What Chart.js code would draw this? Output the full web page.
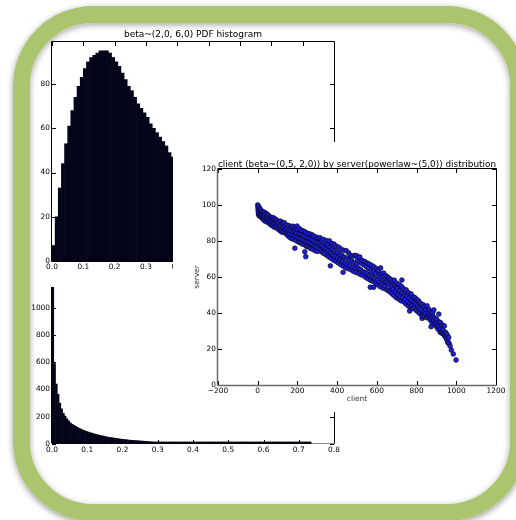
<!DOCTYPE html>
<html>
<head>
<meta charset="utf-8">
<script src="https://cdn.jsdelivr.net/npm/chart.js@4.4.1/dist/chart.umd.min.js"></script>
<style>
  html, body { margin: 0; padding: 0; background: #fff; }
  body { width: 516px; height: 520px; position: relative; overflow: hidden; }
  canvas { position: absolute; background: #fff; }
  #powerlaw { left: 0; top: 200px; z-index: 1; }
  #beta { left: 28px; top: 30px; z-index: 2; }
  #scatter { left: 173px; top: 142px; z-index: 3; }
  #frame {
    position: absolute; left: 13px; top: 6px; width: 514px; height: 515px;
    box-sizing: border-box; border: 17px solid #abc56e; border-radius: 80px;
    z-index: 10; pointer-events: none;
    box-shadow: 0 2px 6px rgba(0,0,0,.4), inset 0 2px 6px rgba(0,0,0,.35);
  }
</style>
</head>
<body>
<canvas id="powerlaw" width="350" height="270"></canvas>
<canvas id="beta" width="318" height="257"></canvas>
<canvas id="scatter" width="339" height="270"></canvas>
<div id="frame"></div>
<script>
// beta~(2,0, 6,0) histogram, bins of 0.01 starting at 0
const betaTitle = "beta~(2,0, 6,0) PDF histogram";
const betaBinWidth = 0.01;
const betaCounts = [
  7, 20, 33, 44, 53, 61, 68, 74, 79, 83,
  87, 90, 92, 93, 94, 95, 95, 95, 94, 92,
  90, 88, 85, 82, 79, 77, 74, 71, 69, 67,
  65, 62, 60, 58, 56, 54, 52, 49, 47, 44,
  42, 40, 37, 35, 33, 31, 29, 27, 25, 23,
  21, 19, 18, 16, 15, 13, 12, 11, 10, 9,
  8, 7, 6, 6, 5, 4, 4, 3, 3, 2,
  2, 2, 1, 1, 1, 1, 1, 0, 0, 0,
  0, 0, 0, 0, 0, 0, 0, 0, 0, 0
];

// powerlaw histogram, bins of 0.005 starting at 0
const powerBinWidth = 0.005;
const powerCounts = [
  1450, 590, 440, 365, 300, 258, 225, 205, 185, 170,
  155, 145, 137, 129, 122, 115, 109, 103, 98, 93,
  88, 84, 80, 76, 72, 69, 66, 63, 60, 57,
  54, 51, 49, 47, 45, 43, 41, 39, 37, 35,
  34, 32, 31, 29, 28, 27, 26, 25, 24, 23,
  22, 21, 20, 19, 18, 17, 16, 15, 15, 14,
  13, 13, 12, 12, 11, 11, 10, 10, 9, 9,
  9, 8, 8, 8, 7, 7, 7, 6, 6, 6,
  6, 5, 5, 5, 5, 5, 4, 4, 4, 4,
  4, 4, 3, 3, 3, 3, 3, 3, 3, 3,
  3, 3, 3, 2, 2, 2, 2, 2, 2, 2,
  2, 2, 2, 2, 2, 2, 2, 2, 1, 2,
  1, 2, 1, 1, 2, 1, 1, 1, 1, 1,
  1, 1, 1, 1, 1, 1, 1, 1, 1, 1,
  1, 1, 1, 1, 1, 1, 1
];

// client / server scatter
const scatterTitle = "client (beta~(0,5, 2,0)) by server(powerlaw~(5,0)) distribution";
const clientServer = [
  [0,100],[1,98.5],[2,97],[3,95.5],[5,94.5],[6,99],[8,96.5],[9,94],[11,97.8],[12,95.3],[14,93.6],
  [16,97.2],[18,95],[20,93],[22,96.4],[24,94.2],[26,92.3],[28,95.8],[30,93.5],[31,91.6],
  [34,96],[36,94.4],[38,92.2],[40,90.8],[43,95.2],[45,93.1],[47,91.4],[50,94.6],[52,92.6],[53,90.3],
  [57,94],[58,91.8],[60,89.6],[63,93.2],[65,90.9],[67,89],[70,92.8],[72,90.6],[73,88.6],
  [77,93],[79,91.5],[80,89.4],[82,87.8],[85,92.4],[87,90.2],[89,88],[92,91.8],[94,89.5],[95,87.2],
  [100,91.2],[102,88.8],[104,86.5],[107,90.3],[110,87.9],[112,85.7],[115,91],[117,88.6],[120,86.2],[122,84.9],
  [125,89.9],[127,87.5],[130,85.3],[133,90.2],[135,88],[137,84.6],[140,86.5],[143,89],[145,83.8],
  [148,87.2],[150,85],[153,82.8],[156,88.6],[158,86.2],[160,84],[163,81.9],[166,87.8],[168,85.4],[170,83.1],
  [173,81.2],[176,88.2],[178,86],[180,83.7],[183,81],[186,85.2],[188,87.6],[190,82.4],[193,80.2],[195,84.5],[187,76],
  [198,88.3],[200,86.4],[203,82],[205,79.5],[208,84],[210,86.8],[213,81.3],[215,79],[218,83.6],
  [221,85.9],[223,81],[225,78.3],[228,83.2],[231,85.5],[233,80.1],[236,77.9],[238,82.6],[240,84.9],[242,71.3],[237,74],
  [244,79.6],[246,77],[249,82],[252,84.2],[254,79.2],[257,76.6],[260,81.5],[262,83.9],[265,78.6],
  [267,75.8],[270,80.8],[272,83.5],[275,78],[278,75.4],[280,82.8],[283,80],[286,77.2],[289,74.6],
  [292,82.3],[295,79.4],[298,76.6],[301,74.2],[304,81.5],[307,78.7],[310,75.8],[313,81.8],[316,77.8],[319,74.3],
  [322,80.5],[325,77.3],[328,73.5],[331,80.9],[334,76.4],[337,72.8],[340,79],[343,75.4],[346,80.2],[349,72],
  [352,77.8],[355,74.5],[358,71.2],[361,80],[364,76.7],[366,66.2],[367,73.3],[370,70.4],[373,78.6],[376,75.6],[379,72.3],
  [382,69.4],[385,78.2],[388,74.6],[391,71.4],[394,68.7],[397,77],[400,73.6],[403,70.5],[406,67.8],[409,76.5],
  [412,72.8],[415,69.6],[418,66.9],[421,75.4],[424,72],[427,68.6],[430,62.6],[431,66],[434,74.8],[437,71],[440,67.6],
  [443,65.2],[446,74.6],[449,70.4],[452,67],[455,64.6],[458,73.4],[461,69.6],[464,66.2],[467,72],[470,64],
  [473,68.8],[476,71.5],[479,65.4],[482,63.2],[485,68],[488,72],[491,64.8],[494,62.6],[497,71.9],[499,67.4],
  [502,70.4],[505,65],[508,62],[511,68.8],[514,71.1],[517,64.2],[520,61.3],[523,67.6],[526,69.2],[529,63],
  [532,60.8],[535,66.8],[538,68.6],[541,62.6],[544,59.8],[547,65.8],[550,67.8],[553,61.6],[556,59],[559,64.6],
  [562,67.2],[565,60.8],[567,54.3],[568,58.2],[571,63.6],[574,66.4],[577,59.9],[580,57.6],[584,54.3],[583,62.6],[586,65.6],[589,59],
  [592,57],[595,61.8],[598,64.6],[601,58.2],[604,55.8],[607,63.5],[610,60.7],[613,57],[616,54.7],[619,65],[622,61.7],
  [625,59],[628,56],[631,53.8],[634,62.2],[637,58.4],[640,55],[643,60.8],[646,57.2],[649,53],
  [652,60.2],[655,56.6],[658,52.4],[661,59.4],[664,55.6],[667,51.6],[670,58.6],[673,54.4],[676,50.8],[679,57.2],
  [682,53.2],[685,49.8],[688,58.2],[691,55.6],[694,52],[697,48.6],[700,56.6],[703,53.6],[706,50.4],[709,47.8],
  [712,55.8],[715,52.4],[718,49.2],[721,46.8],[724,54.8],[726,58.3],[727,51.2],[730,48.4],[733,53.6],[736,46.2],[739,50.6],
  [742,47.6],[745,45.2],[748,52.8],[751,49.8],[754,46.4],[757,44],[760,51.2],[763,48.2],[765,41.1],[766,45.2],[769,43.4],
  [772,50.6],[775,47],[778,44],[781,42.4],[784,49],[787,46],[790,43],[793,48.4],[796,44.8],[799,41.4],
  [802,47.4],[805,43.8],[808,40.6],[811,46.6],[814,42.8],[817,39.6],[820,45.4],[823,41.8],[826,39],[828,37],[829,38.3],
  [832,44.6],[835,40.8],[838,38.2],[841,43.6],[844,39.6],[847,41.8],[850,37.4],[853,44],[856,40.4],[859,37.8],
  [862,42],[865,39],[868,36.2],[871,40.6],[873,32.4],[874,37.6],[877,35],[880,38.8],[881,40.2],[884,36],[887,41.7],[889,33.8],
  [893,37.2],[896,34.6],[899,32.6],[902,36.4],[905,33.4],[908,31],[912,39.4],[912,35],[915,32.2],[918,29.4],[921,34.6],[924,31.2],[927,28.8],[929,29.6],[930,33.2],
  [933,30.6],[936,28.2],[940,32.8],[943,27],[946,29.2],[948,26.9],[951,25.4],[954,28],[957,23.6],[959,24],[962,26.4],[965,22.8],[969,21.6],[975,19.4],[985,17.2],[999,13.9]
];

const FONT = "DejaVu Sans";
const tickFont = { family: FONT, size: 7.4 };
const histColor = "#05051a";
const noGrid = { display: false, drawTicks: false };
const plainNum = (v) => String(v);

// matplotlib-like box with inward tick marks
const mplAxes = {
  id: "mplAxes",
  beforeDatasetsDraw(chart, args, opts) {
    const { ctx, chartArea: a, scales } = chart;
    const sx = scales.x, sy = scales.y;
    ctx.save();
    ctx.strokeStyle = "#000";
    ctx.lineWidth = 1;
    ctx.beginPath();
    sx.ticks.forEach((t) => {
      const p = Math.round(sx.getPixelForValue(t.value)) + 0.5;
      ctx.moveTo(p, a.top); ctx.lineTo(p, a.top + 4);
      ctx.moveTo(p, a.bottom); ctx.lineTo(p, a.bottom - 4);
    });
    sy.ticks.forEach((t) => {
      const p = Math.round(sy.getPixelForValue(t.value)) + 0.5;
      ctx.moveTo(a.left, p); ctx.lineTo(a.left + 4, p);
      ctx.moveTo(a.right, p); ctx.lineTo(a.right - 4, p);
    });
    ctx.stroke();

    const edge = opts.edge || {};
    function side(name, x1, y1, x2, y2) {
      const e = edge[name] || {};
      ctx.strokeStyle = e.color || "#000";
      ctx.lineWidth = e.width || 1;
      ctx.beginPath();
      ctx.moveTo(x1, y1);
      ctx.lineTo(x2, y2);
      ctx.stroke();
    }
    const L = a.left - 0.5, R = a.right + 0.5, T = a.top - 0.5;
    const B = a.bottom + 0.5 + ((edge.bottom && edge.bottom.shift) || 0);
    side("top", L, T, R, T);
    side("right", R, T, R, B);
    side("left", L, T, L, B);
    side("bottom", L, B, R, B);
    ctx.restore();
  },
};

function baseOptions() {
  return {
    responsive: false,
    animation: false,
    events: [],
    plugins: { legend: { display: false }, tooltip: { enabled: false } },
  };
}

// powerlaw histogram (bottom layer)
const powerOpts = baseOptions();
powerOpts.layout = { padding: { left: 0, right: 16, top: 26, bottom: 6 } };
powerOpts.plugins.mplAxes = { edge: { bottom: { color: "#8a8a8a", width: 1, shift: -1 } } };
powerOpts.scales = {
  x: {
    type: "linear", offset: false, min: 0, max: 0.8,
    grid: noGrid, border: { display: false },
    ticks: { stepSize: 0.1, padding: 2, color: "#000", font: tickFont, maxRotation: 0, autoSkip: false,
      callback: (v) => v.toFixed(1) },
    afterFit: (s) => { s.height = 20; },
  },
  y: {
    min: 0, max: 1600,
    grid: noGrid, border: { display: false },
    ticks: { stepSize: 200, padding: 2, color: "#000", font: tickFont, callback: plainNum },
    afterFit: (s) => { s.width = 52; },
  },
};
new Chart(document.getElementById("powerlaw"), {
  type: "bar",
  data: {
    datasets: [{
      data: powerCounts.map((v, i) => ({ x: (i + 0.5) * powerBinWidth, y: v })),
      backgroundColor: histColor,
      borderWidth: 0,
      barPercentage: 1,
      categoryPercentage: 1,
      minBarLength: 2,
    }],
  },
  options: powerOpts,
  plugins: [mplAxes],
});

// beta histogram
const betaOpts = baseOptions();
betaOpts.layout = { padding: { left: 0, right: 12, top: 0, bottom: 0 } };
betaOpts.plugins.title = {
  display: true, text: betaTitle, color: "#000", fullSize: false,
  font: { family: FONT, size: 9, weight: "normal", lineHeight: 1 },
  padding: { top: 0, bottom: 3 },
};
betaOpts.plugins.mplAxes = {};
betaOpts.scales = {
  x: {
    type: "linear", offset: false, min: 0, max: 0.9,
    grid: noGrid, border: { display: false },
    ticks: { stepSize: 0.1, padding: 2, color: "#000", font: tickFont, maxRotation: 0, autoSkip: false,
      callback: (v) => v.toFixed(1) },
    afterFit: (s) => { s.height = 26; },
  },
  y: {
    min: 0, max: 99,
    grid: noGrid, border: { display: false },
    ticks: { stepSize: 20, includeBounds: false, padding: 2, color: "#000", font: tickFont, callback: plainNum },
    afterFit: (s) => { s.width = 24; },
  },
};
new Chart(document.getElementById("beta"), {
  type: "bar",
  data: {
    datasets: [{
      data: betaCounts.map((v, i) => ({ x: (i + 0.5) * betaBinWidth, y: v })),
      backgroundColor: histColor,
      borderWidth: 0,
      barPercentage: 1,
      categoryPercentage: 1,
    }],
  },
  options: betaOpts,
  plugins: [mplAxes],
});

// client / server scatter (top layer)
const scatOpts = baseOptions();
scatOpts.layout = { padding: { left: 0, right: 16, top: 18, bottom: 5 } };
scatOpts.plugins.title = {
  display: true, text: scatterTitle, color: "#000", fullSize: false,
  font: { family: FONT, size: 9, weight: "normal", lineHeight: 1 },
  padding: { top: 0, bottom: 0 },
};
scatOpts.plugins.mplAxes = {
  edge: { left: { color: "#6a6a6a", width: 1.5 }, bottom: { color: "#6a6a6a", width: 1.5 } },
};
scatOpts.scales = {
  x: {
    type: "linear", min: -200, max: 1200,
    grid: noGrid, border: { display: false },
    title: { display: true, text: "client", color: "#333", font: tickFont, padding: { top: 0, bottom: 3.5 } },
    ticks: { stepSize: 200, padding: 2, color: "#000", font: tickFont, maxRotation: 0, autoSkip: false,
      callback: (v) => (v < 0 ? "\u2212" + Math.abs(v) : String(v)) },
    afterFit: (s) => { s.height = 22; },
  },
  y: {
    min: 0, max: 120,
    grid: noGrid, border: { display: false },
    title: { display: true, text: "server", color: "#333", font: tickFont, padding: { top: 19.5, bottom: 0 } },
    ticks: { stepSize: 20, padding: 2, color: "#000", font: tickFont, callback: plainNum },
    afterFit: (s) => { s.width = 45; },
  },
};
new Chart(document.getElementById("scatter"), {
  type: "scatter",
  data: {
    datasets: [{
      data: clientServer.map((p) => ({ x: p[0], y: p[1] })),
      pointRadius: 2.4,
      pointBackgroundColor: "#2020dc",
      pointBorderColor: "#000",
      pointBorderWidth: 0.6,
    }],
  },
  options: scatOpts,
  plugins: [mplAxes],
});
</script>
</body>
</html>
